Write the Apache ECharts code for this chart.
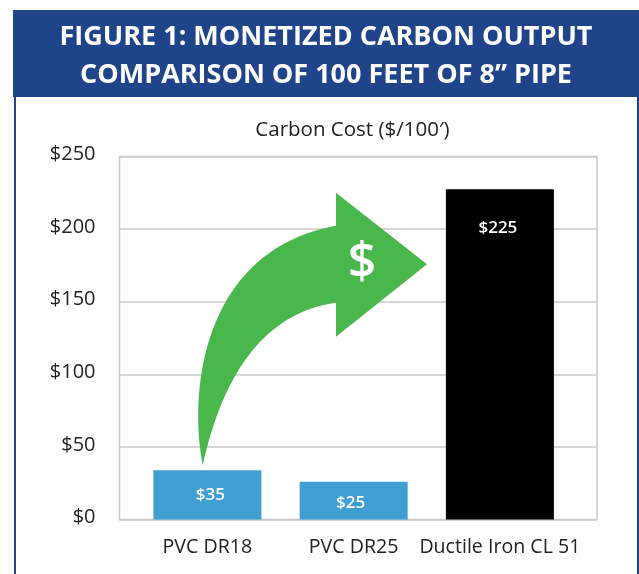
<!DOCTYPE html>
<html><head><meta charset="utf-8">
<style>html,body{margin:0;padding:0;background:#fff}#c{width:639px;height:574px}</style>
<script src="https://cdn.jsdelivr.net/npm/echarts@6/dist/echarts.min.js"></script>
</head><body><div id="c"></div>
<script>
const categories = ['PVC DR18', 'PVC DR25', 'Ductile Iron CL 51'];
const barHeights = [34, 26, 227.5];
const barLabels = ['$35', '$25', '$225'];
const barColors = ['#3f9fd2', '#3f9fd2', '#000000'];
const positions = [0, 1, 2];
const titleText = 'FIGURE 1: MONETIZED CARBON OUTPUT\nCOMPARISON OF 100 FEET OF 8\u201D PIPE';
const subtitleText = 'Carbon Cost ($/100\u2032)';
const FONT = '"Open Sans"';
const labelOffsets = [[3, 0], [-3, 3], [-2, 2]];
function curve(a, b, c, d) {
  const pts = [];
  for (let k = 0; k <= 40; k++) {
    const t = k / 40, u = 1 - t;
    pts.push([0, 1].map(j => u*u*u*a[j] + 3*u*u*t*b[j] + 3*u*t*t*c[j] + t*t*t*d[j]));
  }
  return pts;
}
const arrowPoints = [].concat(
  curve([202.7,465],[188,390],[203,250],[336,225.7]),
  [[336,192.7],[427,264.3],[336,336.7]],
  curve([336,302.7],[270,312],[225,365],[202.7,465])
);
const chart = echarts.init(document.getElementById('c'), null, {renderer: 'canvas'});
chart.setOption({
  animation: false,
  backgroundColor: '#fff',
  title: [
    {text: titleText, left: 326, top: 18, textAlign: 'center', padding: 0,
     textStyle: {color: '#fff', fontFamily: FONT, fontWeight: 700, fontSize: 27, lineHeight: 38}, z: 20},
    {text: subtitleText, left: 347.5, top: 115, textAlign: 'center',
     textStyle: {color: '#222', fontFamily: FONT, fontWeight: 400, fontSize: 20.5}}
  ],
  grid: {left: 119.5, right: 42, top: 156.5, bottom: 54.5, show: true, borderColor: '#c8c8c8', borderWidth: 1.5},
  xAxis: {
    type: 'value', min: -0.601, max: 2.664, splitLine: {show: false},
    axisLine: {show: false}, axisTick: {show: false},
    axisLabel: {customValues: positions, formatter: v => categories[Math.round(v)], color: '#222',
      fontFamily: FONT, fontSize: 19.6, margin: 18}
  },
  yAxis: {
    type: 'value', min: 0, max: 250, interval: 50,
    axisLine: {show: false}, axisTick: {show: false},
    splitLine: {show: true, lineStyle: {color: '#c8c8c8', width: 1.5}},
    axisLabel: {formatter: v => '$' + v, color: '#222', fontFamily: FONT, fontSize: 20, margin: 24,
      verticalAlign: 'bottom', lineHeight: 4}
  },
  series: [{
    type: 'bar', barWidth: 108,
    data: positions.map((p, i) => ({
      value: [p, barHeights[i]],
      itemStyle: {color: barColors[i]},
      label: {show: true, formatter: barLabels[i], position: i === 2 ? 'insideTop' : 'inside',
        distance: i === 2 ? 28 : 5, offset: labelOffsets[i], color: '#fff', fontFamily: FONT, fontSize: 17, fontWeight: 600}
    }))
  }],
  graphic: [
    {type: 'rect', z: 1, shape: {x: 13, y: 10, width: 626, height: 87}, style: {fill: '#1f4489'}},
    {type: 'rect', z: 1, shape: {x: 14, y: 97, width: 2, height: 477}, style: {fill: '#1f4489'}},
    {type: 'rect', z: 1, shape: {x: 637, y: 97, width: 2, height: 477}, style: {fill: '#1f4489'}},
    {type: 'polygon', z: 10, shape: {points: arrowPoints}, style: {fill: '#4ab74c'}},
    {type: 'text', z: 11, x: 362, y: 264, style: {text: '$', fill: '#fff', font: '600 50px "Open Sans"', textAlign: 'center', textVerticalAlign: 'middle'}}
  ]
});
</script></body></html>
